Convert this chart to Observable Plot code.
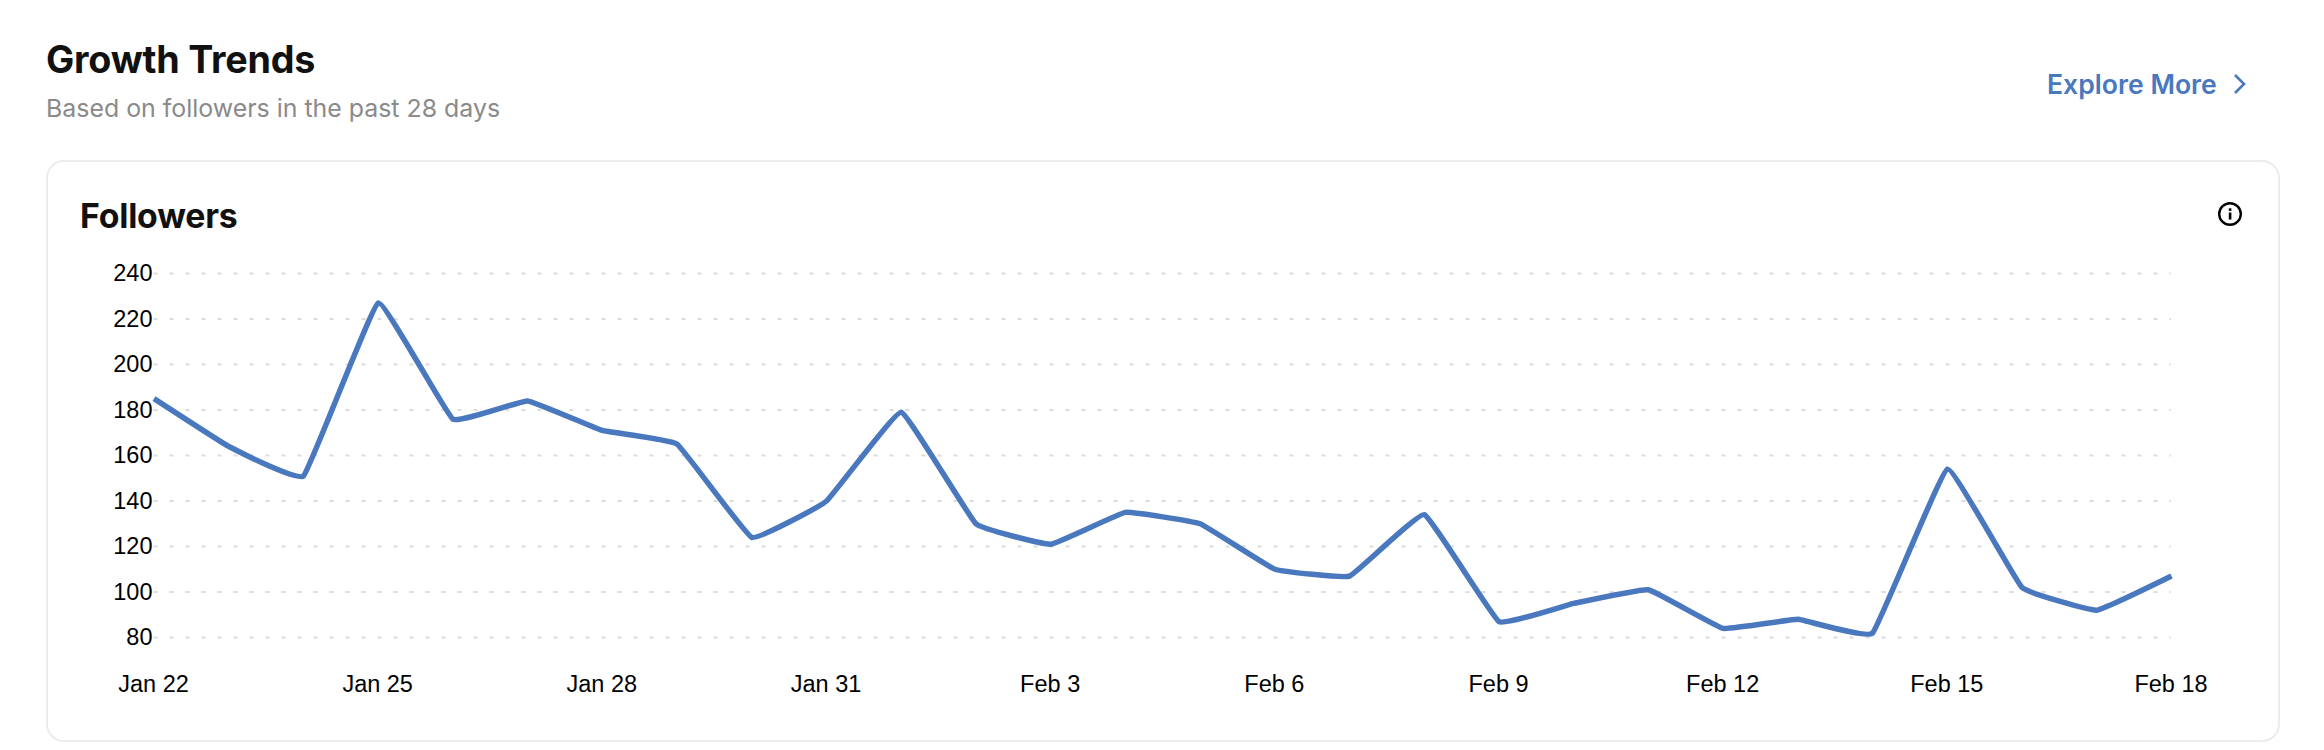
<!DOCTYPE html>
<html>
<head>
<meta charset="utf-8">
<script src="https://cdn.jsdelivr.net/npm/d3@7"></script>
<script src="https://cdn.jsdelivr.net/npm/@observablehq/plot@0.6"></script>
<style>
html,body{margin:0;padding:0;background:#fff;width:2324px;height:750px;overflow:hidden}
body{position:relative;font-family:Inter,sans-serif}
.t{position:absolute;white-space:nowrap;line-height:1}
#title{left:46px;top:41px;font-size:37.7px;font-weight:700;color:#111;letter-spacing:-.2px}
#sub{left:46px;top:96px;font-size:24.9px;font-weight:400;color:#8a8a8a}
#more{left:2047px;top:71px;font-size:26.6px;font-weight:600;color:#4a78bf}
#chev{position:absolute;left:2232px;top:72px}
#card{position:absolute;left:46px;top:160px;width:2230px;height:578px;border:2px solid #ececec;border-radius:18px;box-sizing:content-box}
#ftitle{left:80px;top:199px;font-size:33.8px;font-weight:700;color:#111;letter-spacing:-.2px}
#info{position:absolute;left:2217px;top:201px}
#chart{position:absolute;left:0;top:240px}
#chart svg{display:block}
</style>
</head>
<body>
<div id="card"></div>
<div class="t" id="title">Growth Trends</div>
<div class="t" id="sub">Based on followers in the past 28 days</div>
<div class="t" id="more">Explore More</div>
<svg id="chev" width="16" height="24" viewBox="0 0 16 24"><path d="M3 3 L12 12 L3 21" fill="none" stroke="#4a78bf" stroke-width="2.6"/></svg>
<div class="t" id="ftitle">Followers</div>
<svg id="info" width="26" height="26" viewBox="0 0 26 26"><circle cx="13" cy="13" r="10.8" fill="none" stroke="#000" stroke-width="2.4"/><rect x="11.8" y="11.5" width="2.6" height="7" fill="#000"/><rect x="11.8" y="7.3" width="2.6" height="2.6" fill="#000"/></svg>
<div id="chart"></div>
<script>
const dates = ["2024-01-22","2024-01-23","2024-01-24","2024-01-25","2024-01-26","2024-01-27","2024-01-28","2024-01-29","2024-01-30","2024-01-31","2024-02-01","2024-02-02","2024-02-03","2024-02-04","2024-02-05","2024-02-06","2024-02-07","2024-02-08","2024-02-09","2024-02-10","2024-02-11","2024-02-12","2024-02-13","2024-02-14","2024-02-15","2024-02-16","2024-02-17","2024-02-18"];
const followers = [185,164,151,227,176,184,171,165,124,140,179,130,121,135,130,110,107,134,87,95,101,84,88,82,154,102,92,107];
const yTicks = [80,100,120,140,160,180,200,220,240];
const xTicks = ["2024-01-22","2024-01-25","2024-01-28","2024-01-31","2024-02-03","2024-02-06","2024-02-09","2024-02-12","2024-02-15","2024-02-18"];

const rows = dates.map((d,i)=>({date:new Date(d+"T00:00:00Z"),value:followers[i]}));
const font = "'Liberation Sans',Helvetica,Arial,sans-serif";

const plot = Plot.plot({
  width:2324,height:480,
  marginLeft:153.5,marginRight:153,marginTop:33,marginBottom:83,
  style:{background:"transparent",fontFamily:font,fontSize:"23.5px",color:"#000",overflow:"visible"},
  x:{type:"utc",domain:[rows[0].date,rows[rows.length-1].date]},
  y:{domain:[80,240]},
  marks:[
    Plot.gridY(yTicks,{stroke:"#dcdcdc",strokeOpacity:1,strokeWidth:2,strokeDasharray:"4 12"}),
    Plot.axisY(yTicks,{tickSize:0,tickPadding:1.5,label:null,fill:"#000"}),
    Plot.axisX(xTicks.map(d=>new Date(d+"T00:00:00Z")),{tickSize:0,tickPadding:38,dx:-0.5,label:null,fill:"#000",tickFormat:d3.utcFormat("%b %-d")}),
    Plot.line(rows,{x:"date",y:"value",stroke:"#4a78bf",strokeWidth:5.5,curve:"cardinal",tension:0.75,strokeLinejoin:"round",strokeLinecap:"butt"})
  ]
});
document.getElementById("chart").appendChild(plot);
</script>
</body>
</html>
